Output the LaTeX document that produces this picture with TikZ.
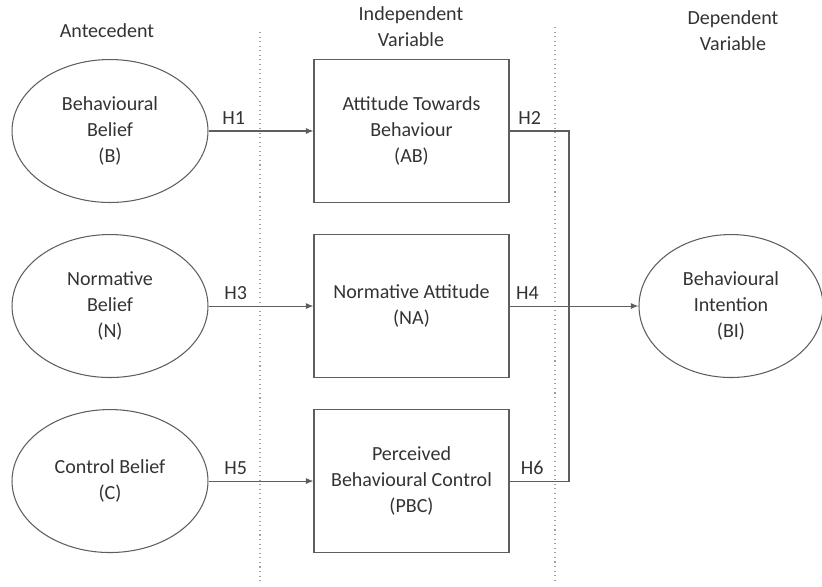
\documentclass[tikz,border=0pt]{standalone}
\usepackage{fontspec}
\setmainfont{Carlito}
\usetikzlibrary{arrows.meta,positioning,shapes.geometric}
\definecolor{ink}{HTML}{333333}
\definecolor{rule}{HTML}{5E5E5E}
\definecolor{guide}{HTML}{A0A0A0}
\newcommand{\diagfont}{\fontsize{11.4}{14.8}\selectfont}
\tikzset{belief/.style={ellipse,draw=rule,line width=.6pt,minimum width=3.92cm,minimum height=2.86cm,inner sep=0pt,align=center,font=\diagfont,text=ink},construct/.style={draw=rule,line width=.6pt,minimum width=3.9cm,minimum height=2.86cm,inner sep=0pt,align=center,font=\diagfont,text=ink},hyp/.style={font=\diagfont,text=ink},head/.style={font=\diagfont,text=ink,align=center},flow/.style={-{Latex[length=1.5mm,width=1.2mm]},draw=rule,line width=.6pt},link/.style={draw=rule,line width=.6pt},divider/.style={draw=guide,dotted,line width=.6pt}}

\begin{document}
\begin{tikzpicture}[x=0.02cm,y=-0.02cm,node distance=.62cm]
\useasboundingbox (0,0) rectangle (822,586);
\node[belief] (bb) at (110,131) {Behavioural\\Belief\\(B)};
\node[belief,below=of bb] (nb) {Normative\\Belief\\(N)};
\node[belief,below=of nb] (cb) {Control Belief\\(C)};
\node[construct,right=2.1cm of bb] (ab) {Attitude Towards\\Behaviour\\(AB)};
\node[construct,right=2.1cm of nb] (na) {Normative Attitude\\(NA)};
\node[construct,right=2.1cm of cb] (pbc) {Perceived\\Behavioural Control\\(PBC)};
\node[belief,minimum width=3.68cm,right=2.58cm of na] (bi) {Behavioural\\Intention\\(BI)};
% column headings and dividers
\node[head] (antecedent) at (107,31) {Antecedent};
\node[head] (independent) at (411,27) {Independent\\Variable};
\node[head] (dependent) at (733,31) {Dependent\\Variable};
\coordinate (lefttop) at (260,32);\coordinate (leftfoot) at (260,583);
\coordinate (righttop) at (555,27);\coordinate (rightfoot) at (555,581);
\draw[divider] (lefttop)--(leftfoot);\draw[divider] (righttop)--(rightfoot);
% hypotheses
\coordinate (rail) at (569,306);
\draw[flow] (bb)--(ab) node[hyp,pos=.24,above]{H1};
\draw[flow] (nb)--(na) node[hyp,pos=.26,above]{H3};
\draw[flow] (cb)--(pbc) node[hyp,pos=.26,above]{H5};
\draw[link] (ab.east)-|(rail) node[hyp,pos=.17,above]{H2};
\draw[flow] (na.east)--(bi.west) node[hyp,pos=.14,above]{H4};
\draw[link] (pbc.east)-|(rail) node[hyp,pos=.19,above]{H6};
\end{tikzpicture}
\end{document}
